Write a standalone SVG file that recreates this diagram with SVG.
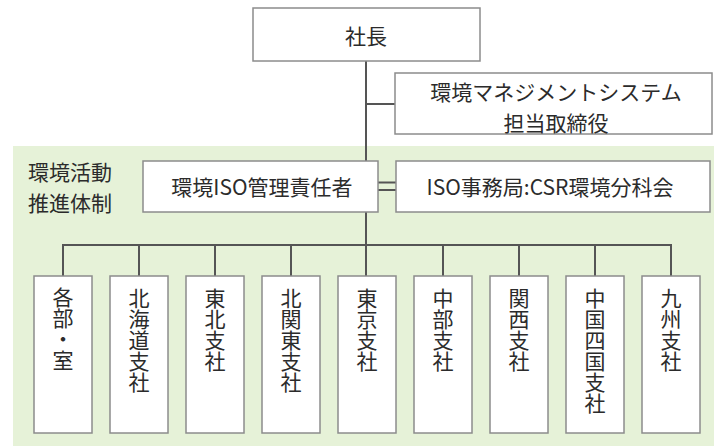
<svg xmlns="http://www.w3.org/2000/svg" width="714" height="446" viewBox="0 0 714 446">
<defs>
<style>
.box{fill:#ffffff;stroke:#8c8c8c;stroke-width:1.5}
.ln{fill:none;stroke:#555555;stroke-width:2}
.t{font-family:"Noto Sans CJK JP","Noto Sans",sans-serif;font-size:21px;fill:#2b2b2b;text-anchor:middle;dominant-baseline:central}
.v{font-family:"Noto Sans CJK JP","Noto Sans",sans-serif;font-size:21px;fill:#2b2b2b;writing-mode:vertical-rl;text-orientation:upright;text-anchor:start}
</style>
</defs>
<rect x="0" y="0" width="714" height="446" fill="#ffffff"/>
<rect id="area" x="13" y="146" width="701" height="300" fill="#e6f2d8"/>
<text class="t"><tspan x="70" y="171">環境活動</tspan><tspan x="70" y="202">推進体制</tspan></text>

<g id="connectors">
<line class="ln" x1="366" y1="61" x2="366" y2="245"/>
<line class="ln" x1="366" y1="104" x2="395" y2="104"/>
<line class="ln" x1="378" y1="182.5" x2="396" y2="182.5"/>
<line class="ln" x1="378" y1="190" x2="396" y2="190"/>
<line class="ln" x1="63" y1="245" x2="671" y2="245"/>
<line class="ln" x1="63" y1="244" x2="63" y2="276"/>
<line class="ln" x1="139" y1="244" x2="139" y2="276"/>
<line class="ln" x1="215" y1="244" x2="215" y2="276"/>
<line class="ln" x1="291" y1="244" x2="291" y2="276"/>
<line class="ln" x1="366" y1="244" x2="366" y2="276"/>
<line class="ln" x1="443" y1="244" x2="443" y2="276"/>
<line class="ln" x1="519" y1="244" x2="519" y2="276"/>
<line class="ln" x1="595" y1="244" x2="595" y2="276"/>
<line class="ln" x1="671" y1="244" x2="671" y2="276"/>
</g>

<g id="president">
<rect class="box" x="253" y="8" width="227" height="53"/>
<text class="t" x="366" y="35">社長</text>
</g>
<g id="ems-director">
<rect class="box" x="395" y="73" width="317" height="61"/>
<text class="t"><tspan x="556" y="90.5">環境マネジメントシステム</tspan><tspan x="556" y="121.5">担当取締役</tspan></text>
</g>
<g id="iso-manager">
<rect class="box" x="143" y="161" width="235" height="51"/>
<text class="t" x="262" y="186">環境ISO管理責任者</text>
</g>
<g id="iso-office">
<rect class="box" x="396" y="161" width="314" height="51"/>
<text class="t" x="550" y="186">ISO事務局:CSR環境分科会</text>
</g>

<g id="b1"><rect class="box" x="34" y="276" width="58" height="157"/>
<text class="v" x="63" y="287">各部・室</text></g>
<g id="b2"><rect class="box" x="110" y="276" width="58" height="157"/>
<text class="v" x="139" y="288">北海道支社</text></g>
<g id="b3"><rect class="box" x="186" y="276" width="58" height="157"/>
<text class="v" x="215" y="288">東北支社</text></g>
<g id="b4"><rect class="box" x="262" y="276" width="58" height="157"/>
<text class="v" x="291" y="288">北関東支社</text></g>
<g id="b5"><rect class="box" x="338" y="276" width="58" height="157"/>
<text class="v" x="367" y="288">東京支社</text></g>
<g id="b6"><rect class="box" x="414" y="276" width="58" height="157"/>
<text class="v" x="443" y="288">中部支社</text></g>
<g id="b7"><rect class="box" x="490" y="276" width="58" height="157"/>
<text class="v" x="519" y="288">関西支社</text></g>
<g id="b8"><rect class="box" x="566" y="276" width="58" height="157"/>
<text class="v" x="595" y="288">中国四国支社</text></g>
<g id="b9"><rect class="box" x="642" y="276" width="58" height="157"/>
<text class="v" x="671" y="288">九州支社</text></g>
</svg>
